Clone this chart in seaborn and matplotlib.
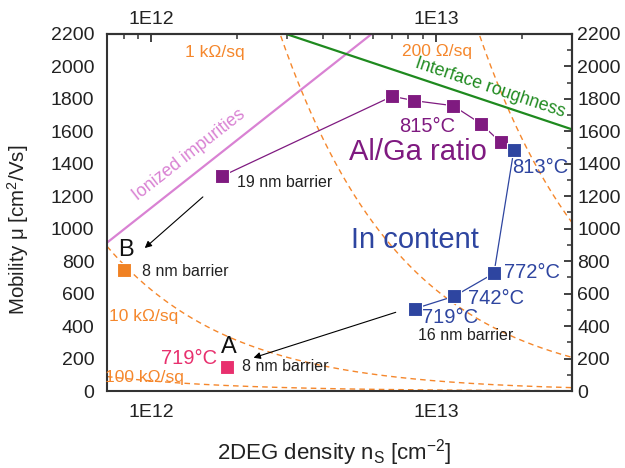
import numpy as np
import pandas as pd
import matplotlib
matplotlib.use("Agg")
import matplotlib.pyplot as plt
import seaborn as sns
from matplotlib.ticker import FixedLocator, FixedFormatter, LogLocator, NullFormatter, MultipleLocator

# ---------------- data ----------------
alga_ns = [1.78e12, 7.03e12, 8.41e12, 1.15e13, 1.44e13, 1.69e13]
alga_mu = [1325, 1816, 1789, 1758, 1647, 1532]

in_ns = [1.88e13, 1.60e13, 1.16e13, 8.43e12]
in_mu = [1487, 725, 584, 507]

b_ns = [8.0e11]
b_mu = [748]
a_ns = [1.85e12]
a_mu = [150]

ionized_ns = [7.0e11, 5.95e12]
ionized_mu = [914, 2200]
rough_ns = [2.98e12, 3.0e13]
rough_mu = [2200, 1613]

sheet_res = [1000, 200, 10000, 100000]   # Ohm/sq iso-resistance lines
q = 1.602e-19

xtick_vals = [1e12, 1e13]
xtick_labels = ["1E12", "1E13"]
ytick_vals = list(range(0, 2201, 200))

# ---------------- style ----------------
sns.set_style("white")
plt.rcParams['font.family'] = ['Liberation Sans', 'DejaVu Sans']
plt.rcParams['mathtext.fontset'] = 'custom'
plt.rcParams['mathtext.rm'] = 'Liberation Sans'
plt.rcParams['mathtext.it'] = 'Liberation Sans'

purple = '#7f1a80'
blue = '#2e45a0'
orange = '#f08122'
pink = '#e8306e'
orchid = '#d982d3'
green = '#1f8a1f'
dash_or = '#f5872c'
axcol = '#333333'
txt = '#222222'

fig = plt.figure(figsize=(6.25, 4.68), dpi=100)
ax = fig.add_axes([0.1712, 0.1645, 0.9147 - 0.1712, 0.9274 - 0.1645])
ax.set_xscale('log')
xmin, xmax = 7.0e11, 3.0e13
ax.set_xlim(xmin, xmax)
ax.set_ylim(0, 2200)

# iso-resistance lines
nn = np.logspace(np.log10(xmin), np.log10(xmax), 300)
for R in sheet_res:
    mu = 1.0 / (q * R * nn)
    ax.plot(nn, mu, color=dash_or, lw=1.0, ls=(0, (4, 3)), zorder=1)

# model lines
sns.lineplot(x=ionized_ns, y=ionized_mu, ax=ax, color=orchid, lw=1.6, zorder=2)
sns.lineplot(x=rough_ns, y=rough_mu, ax=ax, color=green, lw=1.6, zorder=2)

# data series
df_al = pd.DataFrame({'ns': alga_ns, 'mu': alga_mu})
df_in = pd.DataFrame({'ns': in_ns, 'mu': in_mu})
ax.plot(df_al.ns, df_al.mu, color=purple, lw=0.9, zorder=3)
ax.plot(df_in.ns, df_in.mu, color=blue, lw=0.9, zorder=3)
sns.scatterplot(data=df_al, x='ns', y='mu', ax=ax, marker='s', s=95, color=purple,
                edgecolor='white', linewidth=0.8, zorder=4)
sns.scatterplot(data=df_in, x='ns', y='mu', ax=ax, marker='s', s=95, color=blue,
                edgecolor='white', linewidth=0.8, zorder=4)
sns.scatterplot(x=b_ns, y=b_mu, ax=ax, marker='s', s=95, color=orange,
                edgecolor='white', linewidth=0.8, zorder=4)
sns.scatterplot(x=a_ns, y=a_mu, ax=ax, marker='s', s=95, color=pink,
                edgecolor='white', linewidth=0.8, zorder=4)

# arrows
ax.annotate('', xy=(9.5e11, 881), xytext=(1.52e12, 1196),
            arrowprops=dict(arrowstyle='-|>', color='black', lw=0.8,
                            mutation_scale=10, shrinkA=0, shrinkB=0))
ax.annotate('', xy=(2.29e12, 205), xytext=(7.23e12, 485),
            arrowprops=dict(arrowstyle='-|>', color='black', lw=0.8,
                            mutation_scale=10, shrinkA=0, shrinkB=0))

# texts
kw = dict(ha='center', va='center')
ax.text(1.68e12, 2083, '1 k\u03a9/sq', color=dash_or, fontsize=12.5, **kw)
ax.text(1.01e13, 2089, '200 \u03a9/sq', color=dash_or, fontsize=12.5, **kw)
ax.text(9.45e11, 462, '10 k\u03a9/sq', color=dash_or, fontsize=12.5, **kw)
ax.text(9.5e11, 86, '100 k\u03a9/sq', color=dash_or, fontsize=12.5, **kw)
ax.text(1.36e12, 1454, 'Ionized impurities', color=orchid, fontsize=12.8,
        rotation=38, rotation_mode='anchor', **kw)
ax.text(1.55e13, 1867, 'Interface roughness', color=green, fontsize=12.8,
        rotation=-18.5, rotation_mode='anchor', **kw)
ax.text(9.3e12, 1629, '815\u00b0C', color=purple, fontsize=14.5, **kw)
ax.text(8.66e12, 1473, 'Al/Ga ratio', color=purple, fontsize=21, **kw)
ax.text(8.45e12, 930, 'In content', color=blue, fontsize=21, **kw)
ax.text(2.33e13, 1380, '813\u00b0C', color=blue, fontsize=14.5, **kw)
ax.text(2.17e13, 733, '772\u00b0C', color=blue, fontsize=14.5, **kw)
ax.text(1.63e13, 573, '742\u00b0C', color=blue, fontsize=14.5, **kw)
ax.text(1.12e13, 450, '719\u00b0C', color=blue, fontsize=14.5, **kw)
ax.text(1.36e12, 201, '719\u00b0C', color=pink, fontsize=14.5, **kw)
ax.text(1.276e13, 339, '16 nm barrier', color=txt, fontsize=11.5, **kw)
ax.text(2.01e12, 1282, '19 nm barrier', color=txt, fontsize=11.5, ha='left', va='center')
ax.text(9.3e11, 735, '8 nm barrier', color=txt, fontsize=11.5, ha='left', va='center')
ax.text(2.09e12, 150, '8 nm barrier', color=txt, fontsize=11.5, ha='left', va='center')
ax.text(8.16e11, 869, 'B', color='#111111', fontsize=17, **kw)
ax.text(1.87e12, 273, 'A', color='#111111', fontsize=17, **kw)

# axes styling
for s in ax.spines.values():
    s.set_color(axcol)
    s.set_linewidth(1.5)

ax.xaxis.set_major_locator(FixedLocator(xtick_vals))
ax.xaxis.set_major_formatter(FixedFormatter(xtick_labels))
ax.xaxis.set_minor_locator(LogLocator(base=10, subs=np.arange(2, 10)))
ax.xaxis.set_minor_formatter(NullFormatter())
ax.yaxis.set_major_locator(FixedLocator(ytick_vals))
ax.yaxis.set_minor_locator(MultipleLocator(100))

lab = 14
ax.tick_params(which='major', direction='out', length=6, width=1.3, color=axcol,
               labelsize=lab, labelcolor=txt, pad=3)
ax.tick_params(which='minor', direction='out', length=3.5, width=1.1, color=axcol)

secx = ax.secondary_xaxis('top')
secx.xaxis.set_major_locator(FixedLocator(xtick_vals))
secx.xaxis.set_major_formatter(FixedFormatter(xtick_labels))
secx.xaxis.set_minor_locator(LogLocator(base=10, subs=np.arange(2, 10)))
secx.xaxis.set_minor_formatter(NullFormatter())
secx.tick_params(which='major', direction='in', length=6, width=1.3, color=axcol,
                 labelsize=lab, labelcolor=txt, pad=4)
secx.tick_params(which='minor', direction='in', length=3.5, width=1.1, color=axcol)
secx.spines['top'].set_color(axcol)
secx.spines['top'].set_linewidth(1.5)

secy = ax.secondary_yaxis('right')
secy.yaxis.set_major_locator(FixedLocator(ytick_vals))
secy.yaxis.set_minor_locator(MultipleLocator(100))
secy.tick_params(which='major', direction='in', length=6, width=1.3, color=axcol,
                 labelsize=lab, labelcolor=txt, pad=4)
secy.tick_params(which='minor', direction='in', length=3.5, width=1.1, color=axcol)
secy.spines['right'].set_color(axcol)
secy.spines['right'].set_linewidth(1.5)

ax.set_xlabel('2DEG density n$_\\mathregular{S}$ [cm$^{\\mathregular{-2}}$]', fontsize=16,
              color=txt)
ax.xaxis.set_label_coords(0.488, -0.13)
ax.set_ylabel('Mobility \u03bc [cm$^\\mathregular{2}$/Vs]', fontsize=14.8, color=txt)
ax.yaxis.set_label_coords(-0.163, 0.45)

fig.savefig('out.png', dpi=100)
